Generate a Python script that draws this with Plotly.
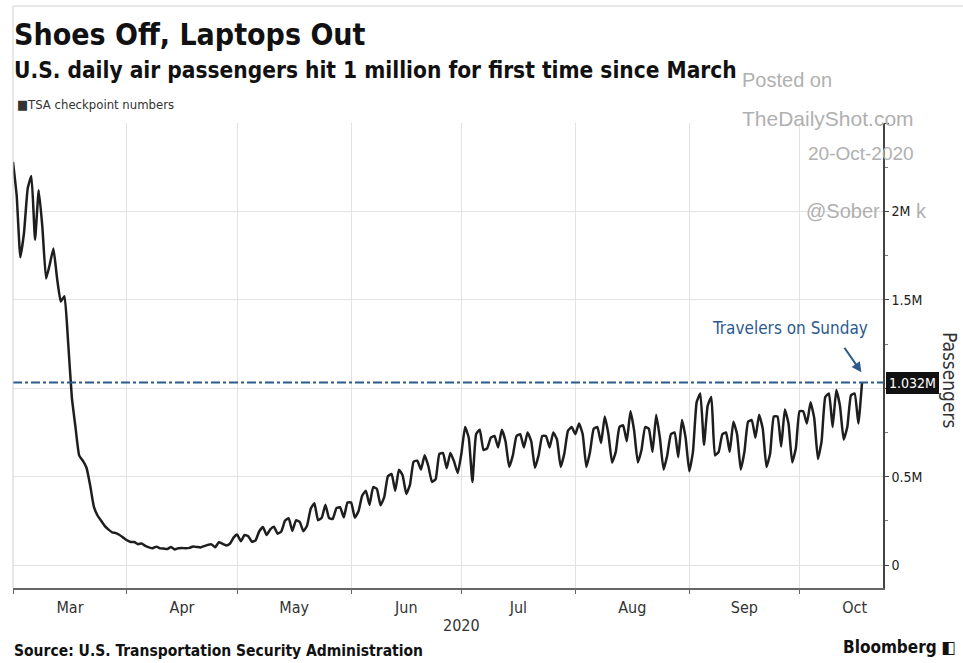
import pandas as pd
import plotly.graph_objects as go

# ---- Data (millions of passengers, TSA checkpoint daily numbers) ----
mar = [2.28, 2.09, 1.74, 1.88, 2.13, 2.20, 1.84, 2.12, 1.91, 1.62, 1.70, 1.79, 1.62, 1.49, 1.52,
       1.26, 0.95, 0.78, 0.62, 0.59, 0.55, 0.45, 0.33, 0.28, 0.25, 0.22, 0.20, 0.185, 0.18, 0.17, 0.155]
apr = [0.140, 0.130, 0.130, 0.118, 0.122, 0.108, 0.100, 0.095, 0.104, 0.094, 0.093, 0.091, 0.102, 0.088, 0.095,
       0.096, 0.095, 0.097, 0.105, 0.102, 0.099, 0.107, 0.114, 0.117, 0.100, 0.129, 0.120, 0.111, 0.120, 0.155]
may = [0.172, 0.134, 0.170, 0.163, 0.131, 0.140, 0.191, 0.215, 0.170, 0.201, 0.216, 0.177, 0.190, 0.250, 0.265,
       0.193, 0.253, 0.244, 0.191, 0.222, 0.318, 0.349, 0.253, 0.267, 0.341, 0.265, 0.261, 0.322, 0.327, 0.269, 0.353]
jun = [0.353, 0.268, 0.304, 0.392, 0.420, 0.340, 0.441, 0.430, 0.338, 0.384, 0.502, 0.515, 0.420, 0.539, 0.508,
       0.402, 0.453, 0.585, 0.590, 0.540, 0.621, 0.560, 0.470, 0.486, 0.629, 0.633, 0.548, 0.634, 0.586, 0.520]
jul = [0.630, 0.780, 0.720, 0.470, 0.740, 0.765, 0.650, 0.660, 0.720, 0.730, 0.665, 0.765, 0.700, 0.555, 0.620,
       0.730, 0.740, 0.665, 0.750, 0.700, 0.550, 0.620, 0.730, 0.730, 0.665, 0.750, 0.710, 0.555, 0.630, 0.760, 0.780]
aug = [0.740, 0.800, 0.740, 0.555, 0.640, 0.770, 0.780, 0.690, 0.840, 0.740, 0.580, 0.640, 0.780, 0.790, 0.700,
       0.870, 0.760, 0.580, 0.650, 0.780, 0.770, 0.640, 0.850, 0.720, 0.540, 0.620, 0.740, 0.750, 0.610, 0.820, 0.720]
sep = [0.530, 0.640, 0.920, 0.970, 0.680, 0.900, 0.950, 0.620, 0.640, 0.740, 0.750, 0.640, 0.810, 0.740, 0.540,
       0.640, 0.810, 0.820, 0.720, 0.850, 0.770, 0.555, 0.630, 0.840, 0.840, 0.670, 0.880, 0.800, 0.580, 0.660]
oct_ = [0.870, 0.870, 0.800, 0.920, 0.830, 0.600, 0.700, 0.950, 0.970, 0.780, 0.990, 0.900, 0.710, 0.780, 0.960,
        0.970, 0.800, 1.032]

start_date = "2020-03-01"
end_date = "2020-10-18"
last_value_label = "1.032M"
y_tickvals = [0, 0.5e6, 1.0e6, 1.5e6, 2.0e6, 2.5e6]
y_ticktext = ["0", "0.5M", "", "1.5M", "2M", ""]

values_m = mar + apr + may + jun + jul + aug + sep + oct_
dates = pd.date_range(start_date, end_date, freq="D")
values = [v * 1e6 for v in values_m]

# ---- Layout helpers (pixel -> paper) ----
W, H = 963, 663
L, R, T, B = 13, 80, 123, 75
PW, PH = W - L - R, H - T - B


def px(x):
    return (x - L) / PW


def py(y):
    return (H - B - y) / PH


NARROW = "Liberation Sans Narrow, DejaVu Sans Condensed, Arial Narrow, sans-serif"
BLUE = "#2c5a8c"

fig = go.Figure()
fig.add_trace(go.Scatter(x=dates, y=values, mode="lines",
                         line=dict(color="#1e1e1e", width=2.5, shape="spline", smoothing=0.4),
                         hoverinfo="skip"))

fig.update_layout(
    width=W, height=H,
    margin=dict(l=L, r=R, t=T, b=B),
    paper_bgcolor="white", plot_bgcolor="white",
    showlegend=False,
    font=dict(family=NARROW, color="#222"),
    xaxis=dict(
        type="date",
        range=["2020-03-01", "2020-10-23 17:00"],
        tick0="2020-03-01", dtick="M1", tickformat="%b",
        ticklabelmode="period",
        showgrid=True, gridcolor="#e2e2e2", gridwidth=1,
        showline=True, linecolor="#666", linewidth=1.5,
        ticks="outside", ticklen=4, tickcolor="#666",
        tickfont=dict(size=16, color="#333", family=NARROW),
        zeroline=False,
    ),
    yaxis=dict(
        side="right",
        range=[-0.13e6, 2.5e6],
        tickvals=y_tickvals, ticktext=y_ticktext,
        showgrid=True, gridcolor="#e2e2e2", gridwidth=1,
        showline=True, linecolor="#444", linewidth=1.5,
        ticks="outside", ticklen=4, tickcolor="#444",
        minor=dict(ticks="outside", dtick=0.25e6, tick0=0, ticklen=3, tickcolor="#777", showgrid=False),
        tickfont=dict(size=14, color="#222", family=NARROW),
        zeroline=False,
    ),
)

# reference line at last value
fig.add_shape(type="line", xref="paper", x0=0, x1=1, yref="y", y0=1.032e6, y1=1.032e6,
              line=dict(color=BLUE, width=2, dash="dashdot"))

# outer light frame
fig.add_shape(type="line", xref="paper", yref="paper", x0=0, x1=px(W), y0=py(6), y1=py(6),
              line=dict(color="#d0d0d0", width=1))
fig.add_shape(type="line", xref="paper", yref="paper", x0=0, x1=0, y0=0, y1=py(6),
              line=dict(color="#d0d0d0", width=1))

ann = []
# watermark (light grey)
wm = dict(family="Liberation Sans, Arial, sans-serif", size=20, color="#b0b0b0")
ann.append(dict(text="Posted on", x=px(740), y=py(80), xanchor="left", yanchor="middle", font=wm))
ann.append(dict(text="TheDailyShot.com", x=px(916), y=py(118), xanchor="right", yanchor="middle",
                font=dict(wm, size=21)))
ann.append(dict(text="20-Oct-2020", x=px(916), y=py(153), xanchor="right", yanchor="middle",
                font=dict(wm, size=19)))
ann.append(dict(text="@Sober", x=px(882), y=py(211), xanchor="right", yanchor="middle", font=wm))
ann.append(dict(text="k", x=px(914), y=py(211), xanchor="left", yanchor="middle", font=wm))

# titles
ann.append(dict(text="<b>Shoes Off, Laptops Out</b>", x=px(12), y=py(34), xanchor="left", yanchor="middle",
                font=dict(size=30, color="#111", family=NARROW)))
ann.append(dict(text="<b>U.S. daily air passengers hit 1 million for first time since March</b>",
                x=px(12), y=py(70), xanchor="left", yanchor="middle",
                font=dict(size=22.5, color="#111", family=NARROW)))
ann.append(dict(text="■TSA checkpoint numbers", x=px(15), y=py(105), xanchor="left", yanchor="middle",
                font=dict(size=13, color="#333", family=NARROW)))

# Travelers on Sunday annotation
ann.append(dict(text="Travelers on Sunday", x=px(790), y=py(328), xanchor="center", yanchor="middle",
                font=dict(size=17, color=BLUE, family=NARROW)))
ann.append(dict(text="", x=pd.Timestamp("2020-10-17 20:00"), y=1.09e6, xref="x", yref="y",
                showarrow=True, arrowhead=2, arrowsize=1, arrowwidth=2, arrowcolor=BLUE,
                ax=-18, ay=-26))

# last value label
ann.append(dict(text=last_value_label, x=1, xshift=3, y=1.032e6, yref="y", xanchor="left", yanchor="middle",
                bgcolor="#111", bordercolor="#111", borderpad=2,
                font=dict(size=14, color="white", family=NARROW)))

# axis title
ann.append(dict(text="Passengers", x=px(950), y=py(380), textangle=90, xanchor="center", yanchor="middle",
                font=dict(size=19, color="#333", family=NARROW)))

# year label
ann.append(dict(text="2020", x=pd.Timestamp("2020-07-01"), xref="x", y=py(625), xanchor="center",
                yanchor="middle", font=dict(size=16, color="#333", family=NARROW)))

# footer
ann.append(dict(text="<b>Source: U.S. Transportation Security Administration</b>", x=px(12), y=py(651),
                xanchor="left", yanchor="middle", font=dict(size=15.5, color="#111", family=NARROW)))
ann.append(dict(text="<b>Bloomberg</b> ◧", x=px(958), y=py(647), xanchor="right", yanchor="middle",
                font=dict(size=17, color="#111", family=NARROW)))

for a in ann:
    a.setdefault("xref", "paper")
    a.setdefault("yref", "paper")
    a.setdefault("showarrow", False)
    fig.add_annotation(**a)

fig.write_html("out.html")
